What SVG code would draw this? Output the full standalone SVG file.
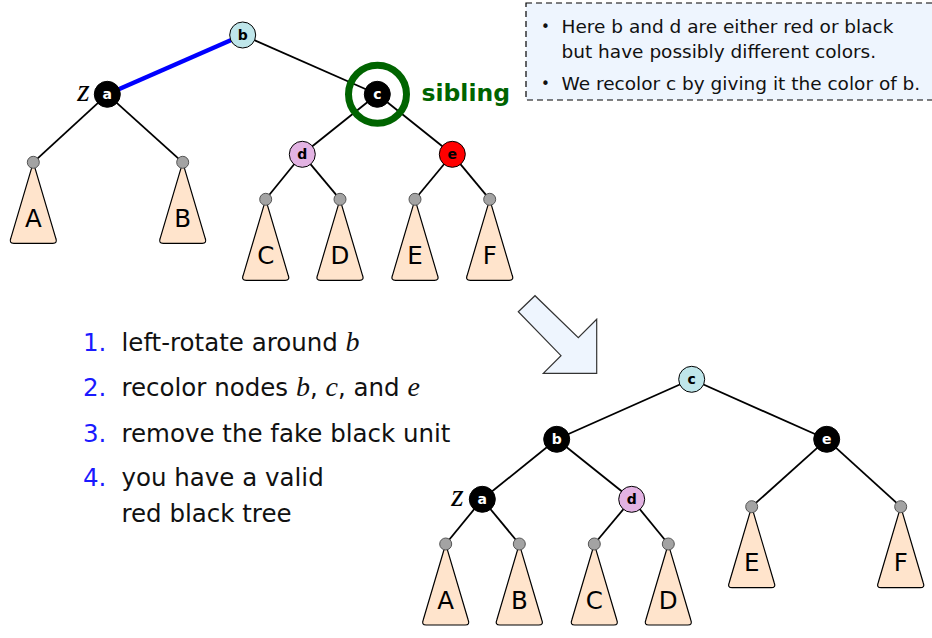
<svg xmlns="http://www.w3.org/2000/svg" xmlns:xlink="http://www.w3.org/1999/xlink" width="932" height="638" viewBox="0 0 932 638">
<style>
.edge{stroke:#000;stroke-width:1.8;fill:none}
.blue{stroke:#0000ff;stroke-width:4.5}
.node{stroke:#000;stroke-width:1}
.blk{fill:#000}
.cyan{fill:#bfe6ea}
.plum{fill:#e3b3e3}
.red{fill:#ff0000}
.nl{font-family:"DejaVu Sans",sans-serif;font-weight:bold;font-size:14px;text-anchor:middle}
.wt{fill:#fff}
.leaf{fill:#a3a3a3;stroke:#555;stroke-width:1}
.tri{fill:#ffe4cc;stroke:#000;stroke-width:1.2}
.tl{font-family:"DejaVu Sans",sans-serif;font-size:24.5px;text-anchor:middle}
.z{font-family:"Liberation Serif",serif;font-style:italic;font-size:32px;text-anchor:middle}
.box{font-family:"DejaVu Sans",sans-serif;font-size:18.5px;fill:#111}
.bul{font-family:"DejaVu Sans",sans-serif;font-size:15px;fill:#111}
.list{font-family:"DejaVu Sans",sans-serif;font-size:24.5px;fill:#111}
.num{fill:#1a1aff}
.it{font-family:"Liberation Serif",serif;font-style:italic;font-size:28px}
</style>
<defs>
<path id="tri" d="M0,0 L-22.5,76 Q-24.5,81 -19.5,81 L19.5,81 Q24.5,81 22.5,76 Z"/>
</defs>

<!-- note box -->
<g id="note">
<rect x="526" y="3" width="420" height="97" fill="#eef5fe" stroke="#000" stroke-width="1.2" stroke-dasharray="6,4"/>
<text class="bul" x="541" y="32">•</text>
<text class="box" x="561.5" y="33">Here b and d are either red or black</text>
<text class="box" x="561.5" y="58">but have possibly different colors.</text>
<text class="bul" x="541" y="89">•</text>
<text class="box" x="561.5" y="90">We recolor c by giving it the color of b.</text>
</g>

<!-- connectors -->
<g id="connectors">
<line class="edge blue" x1="242.7" y1="35" x2="107.3" y2="94.3"/>
<line class="edge" x1="242.7" y1="35" x2="377.3" y2="94.3"/>
<line class="edge" x1="107.3" y1="94.3" x2="33.3" y2="162.3"/>
<line class="edge" x1="107.3" y1="94.3" x2="182.7" y2="162.3"/>
<line class="edge" x1="377.3" y1="94.3" x2="302.3" y2="154.3"/>
<line class="edge" x1="377.3" y1="94.3" x2="452.3" y2="154.3"/>
<line class="edge" x1="302.3" y1="154.3" x2="265.7" y2="199.3"/>
<line class="edge" x1="302.3" y1="154.3" x2="340" y2="199.3"/>
<line class="edge" x1="452.3" y1="154.3" x2="415" y2="199.3"/>
<line class="edge" x1="452.3" y1="154.3" x2="489.7" y2="199.3"/>

<line class="edge" x1="691.7" y1="379.3" x2="556.7" y2="439.3"/>
<line class="edge" x1="691.7" y1="379.3" x2="826.7" y2="439.3"/>
<line class="edge" x1="556.7" y1="439.3" x2="482.3" y2="499.3"/>
<line class="edge" x1="556.7" y1="439.3" x2="631.7" y2="499.3"/>
<line class="edge" x1="482.3" y1="499.3" x2="445.7" y2="544"/>
<line class="edge" x1="482.3" y1="499.3" x2="519.3" y2="544"/>
<line class="edge" x1="631.7" y1="499.3" x2="594.3" y2="544"/>
<line class="edge" x1="631.7" y1="499.3" x2="668.3" y2="544"/>
<line class="edge" x1="826.7" y1="439.3" x2="751.7" y2="506.7"/>
<line class="edge" x1="826.7" y1="439.3" x2="900.7" y2="506.7"/>
</g>

<!-- top tree subtrees -->
<g id="tA1"><use href="#tri" class="tri" x="33.3" y="162.3"/><circle class="leaf" cx="33.3" cy="162.3" r="6"/><text class="tl" x="33.3" y="227">A</text></g>
<g id="tB1"><use href="#tri" class="tri" x="182.7" y="162.3"/><circle class="leaf" cx="182.7" cy="162.3" r="6"/><text class="tl" x="182.7" y="227">B</text></g>
<g id="tC1"><use href="#tri" class="tri" x="265.7" y="199.3"/><circle class="leaf" cx="265.7" cy="199.3" r="6"/><text class="tl" x="265.7" y="264">C</text></g>
<g id="tD1"><use href="#tri" class="tri" x="340" y="199.3"/><circle class="leaf" cx="340" cy="199.3" r="6"/><text class="tl" x="340" y="264">D</text></g>
<g id="tE1"><use href="#tri" class="tri" x="415" y="199.3"/><circle class="leaf" cx="415" cy="199.3" r="6"/><text class="tl" x="415" y="264">E</text></g>
<g id="tF1"><use href="#tri" class="tri" x="489.7" y="199.3"/><circle class="leaf" cx="489.7" cy="199.3" r="6"/><text class="tl" x="489.7" y="264">F</text></g>

<!-- top tree nodes -->
<g id="nb1"><circle class="node cyan" cx="242.7" cy="35" r="13"/><text class="nl" x="242.7" y="40">b</text></g>
<g id="na1"><circle class="node blk" cx="107.3" cy="94.3" r="13"/><text class="nl wt" x="107.3" y="99.3">a</text><text class="z" x="83.5" y="101">z</text></g>
<g id="nc1"><circle class="node blk" cx="377.3" cy="94.3" r="13"/><text class="nl wt" x="377.3" y="99.3">c</text></g>
<g id="nd1"><circle class="node plum" cx="302.3" cy="154.3" r="13"/><text class="nl" x="302.3" y="159.3">d</text></g>
<g id="ne1"><circle class="node red" cx="452.3" cy="154.3" r="13"/><text class="nl" x="452.3" y="159.3">e</text></g>

<g id="sibling">
<circle cx="377.5" cy="94.3" r="29" fill="none" stroke="#006400" stroke-width="7"/>
<text x="421.5" y="101" font-family="DejaVu Sans, sans-serif" font-weight="bold" font-size="23.5px" fill="#006400">sibling</text>
</g>

<!-- arrow -->
<g id="arrow">
<polygon points="518.3,311.7 535,295.7 578.3,337.7 596.7,319.3 596.7,373.3 543.3,373.3 561,355.7" fill="#eef5fe" stroke="#333" stroke-width="1.2"/>
</g>

<!-- steps list -->
<g id="steps" class="list">
<text x="83" y="351"><tspan class="num">1.</tspan></text>
<text x="121.5" y="351">left-rotate around <tspan class="it">b</tspan></text>
<text x="83" y="396"><tspan class="num">2.</tspan></text>
<text x="121.5" y="396">recolor nodes <tspan class="it">b</tspan>, <tspan class="it">c</tspan>, and <tspan class="it">e</tspan></text>
<text x="83" y="441.5"><tspan class="num">3.</tspan></text>
<text x="121.5" y="441.5">remove the fake black unit</text>
<text x="83" y="486"><tspan class="num">4.</tspan></text>
<text x="121.5" y="486">you have a valid</text>
<text x="121.5" y="521.5">red black tree</text>
</g>

<!-- bottom tree subtrees -->
<g id="tA2"><use href="#tri" class="tri" x="445.7" y="544"/><circle class="leaf" cx="445.7" cy="544" r="6"/><text class="tl" x="445.7" y="608.5">A</text></g>
<g id="tB2"><use href="#tri" class="tri" x="519.3" y="544"/><circle class="leaf" cx="519.3" cy="544" r="6"/><text class="tl" x="519.3" y="608.5">B</text></g>
<g id="tC2"><use href="#tri" class="tri" x="594.3" y="544"/><circle class="leaf" cx="594.3" cy="544" r="6"/><text class="tl" x="594.3" y="608.5">C</text></g>
<g id="tD2"><use href="#tri" class="tri" x="668.3" y="544"/><circle class="leaf" cx="668.3" cy="544" r="6"/><text class="tl" x="668.3" y="608.5">D</text></g>
<g id="tE2"><use href="#tri" class="tri" x="751.7" y="506.7"/><circle class="leaf" cx="751.7" cy="506.7" r="6"/><text class="tl" x="751.7" y="571">E</text></g>
<g id="tF2"><use href="#tri" class="tri" x="900.7" y="506.7"/><circle class="leaf" cx="900.7" cy="506.7" r="6"/><text class="tl" x="900.7" y="571">F</text></g>

<!-- bottom tree nodes -->
<g id="nc2"><circle class="node cyan" cx="691.7" cy="379.3" r="13"/><text class="nl" x="691.7" y="384.3">c</text></g>
<g id="nb2"><circle class="node blk" cx="556.7" cy="439.3" r="13"/><text class="nl wt" x="556.7" y="444.3">b</text></g>
<g id="ne2"><circle class="node blk" cx="826.7" cy="439.3" r="13"/><text class="nl wt" x="826.7" y="444.3">e</text></g>
<g id="na2"><circle class="node blk" cx="482.3" cy="499.3" r="13"/><text class="nl wt" x="482.3" y="504.3">a</text><text class="z" x="457.5" y="506">z</text></g>
<g id="nd2"><circle class="node plum" cx="631.7" cy="499.3" r="13"/><text class="nl" x="631.7" y="504.3">d</text></g>
</svg>
